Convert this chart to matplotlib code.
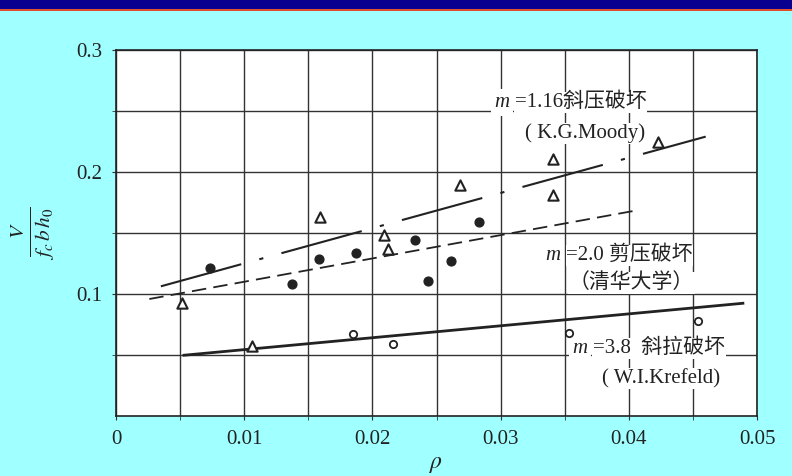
import numpy as np
import matplotlib.pyplot as plt
from matplotlib.patches import Rectangle

plt.rcParams['font.family'] = ['Liberation Serif', 'Noto Sans CJK SC']
plt.rcParams['mathtext.fontset'] = 'stix'

# test points (rho, V / fc b h0)
tri_x = [0.00516, 0.0106, 0.0159, 0.0209, 0.0212, 0.0268, 0.0341, 0.0341, 0.0423]
tri_y = [0.0927, 0.0577, 0.163, 0.148, 0.137, 0.189, 0.211, 0.181, 0.225]
dot_x = [0.00734, 0.0137, 0.0158, 0.0187, 0.0233, 0.0243, 0.0261, 0.0283]
dot_y = [0.121, 0.108, 0.129, 0.134, 0.144, 0.111, 0.127, 0.159]
ring_x = [0.0185, 0.0216, 0.0353, 0.0454]
ring_y = [0.0669, 0.0593, 0.068, 0.078]

# fitted lines, end points
moody_x = [0.0035, 0.0460]
moody_y = [0.1063, 0.2290]
qh_x = [0.0026, 0.0406]
qh_y = [0.0959, 0.1685]
kref_x = [0.0053, 0.0489]
kref_y = [0.0498, 0.0924]

fig = plt.figure(figsize=(7.92, 4.76), dpi=100)
fig.patch.set_facecolor('#a0ffff')
fig.add_artist(Rectangle((0, 1 - 9 / 476), 1, 9 / 476, transform=fig.transFigure,
                         facecolor='#0a0090', edgecolor='none'))
fig.add_artist(Rectangle((0, 1 - 11 / 476), 1, 2 / 476, transform=fig.transFigure,
                         facecolor='#e05030', edgecolor='none'))

ax = fig.add_axes([116 / 792, 1 - 416 / 476, (757 - 116) / 792, (416 - 50) / 476])
ax.set_facecolor('white')
ax.set_xlim(0, 0.05)
ax.set_ylim(0, 0.3)

ax.set_xticks(np.arange(0, 0.051, 0.01))
ax.set_xticklabels(['0', '0.01', '0.02', '0.03', '0.04', '0.05'])
ax.set_xticks(np.arange(0.005, 0.05, 0.01), minor=True)
ax.set_yticks([0.1, 0.2, 0.3])
ax.set_yticklabels(['0.1', '0.2', '0.3'])
ax.set_yticks([0.05, 0.15, 0.25], minor=True)
ax.grid(True, which='both', color='#333333', linewidth=1.0)
ax.tick_params(which='both', direction='out', length=3, color='#333333',
               labelsize=15, labelcolor='#222222', pad=7)
for s in ax.spines.values():
    s.set_color('#222222')
    s.set_linewidth(1.2)

ax.plot(moody_x, moody_y, color='#222222', lw=1.5, dashes=(40, 9, 2, 9))
ax.plot(qh_x, qh_y, color='#222222', lw=1.3, dashes=(8, 4))
ax.plot(kref_x, kref_y, color='#222222', lw=2.0)

# markers drawn above the text boxes
ax.scatter(tri_x, tri_y, marker='^', s=55, facecolors='white', edgecolors='#222222',
           linewidths=1.5, zorder=8)
ax.scatter(dot_x, dot_y, marker='o', s=40, color='#222222', zorder=8)
ax.scatter(ring_x, ring_y, marker='o', s=28, facecolors='white', edgecolors='#222222',
           linewidths=1.3, zorder=8)

txt = dict(fontsize=15, color='#222222', va='center', zorder=6,
           bbox=dict(facecolor='white', edgecolor='none', pad=0.5))


def curve_label(x, y, rest):
    # italic m followed by the rest of the label
    m = ax.text(x, y, 'm', style='italic', ha='left', fontsize=15, color='#222222',
                va='center', zorder=6,
                bbox=dict(facecolor='white', edgecolor='none', pad=2.5))
    ax.annotate(rest, xy=(1, 0.5), xycoords=m, xytext=(4, 0),
                textcoords='offset points', ha='left', **txt)


curve_label(0.0295, 0.257, '=1.16斜压破坏')
ax.text(0.0366, 0.2317, '( K.G.Moody)', ha='center', **txt)

curve_label(0.0335, 0.1317, '=2.0 剪压破坏')
ax.text(0.0402, 0.1090, '（清华大学）', ha='center', **txt)

curve_label(0.0356, 0.0553, '=3.8  斜拉破坏')
ax.text(0.0425, 0.0309, '( W.I.Krefeld)', ha='center', **txt)

ax.set_xlabel(r'$\rho$', fontsize=17, color='#222222', labelpad=4)
ax.set_ylabel(r'$\frac{V}{f_c\,b\,h_0}$', fontsize=22, color='#222222', labelpad=14)

fig.savefig('out.png', dpi=100, facecolor=fig.get_facecolor())
